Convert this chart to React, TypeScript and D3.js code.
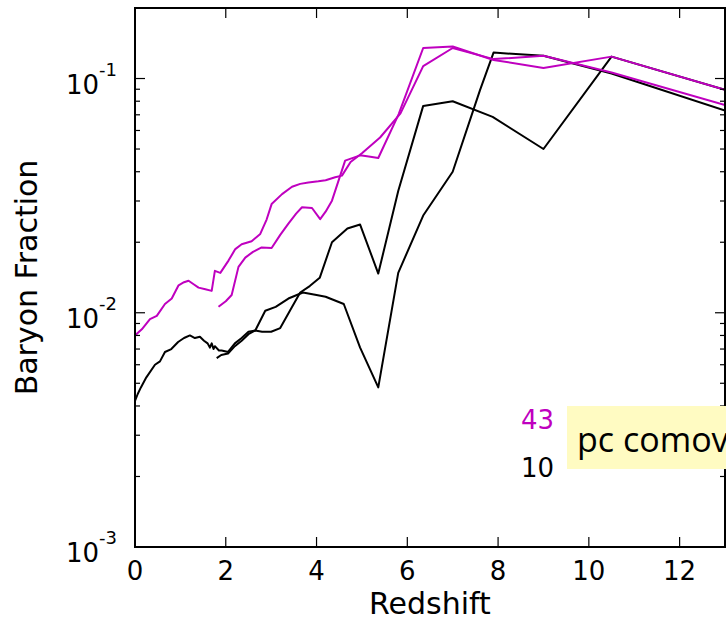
import React from "react";
import * as d3 from "d3";

// Redshift / baryon-fraction tracks for two halos at two resolutions
const res43FullZ = [0, 0.15, 0.33, 0.48, 0.66, 0.81, 0.96, 1.08, 1.18, 1.3, 1.4, 1.55, 1.69, 1.76, 1.88, 2.06, 2.21, 2.35, 2.57, 2.76, 2.9, 3.01, 3.24, 3.46, 3.64, 3.82, 4.04, 4.2, 4.41, 4.56, 4.75, 5.0, 5.4, 5.85, 6.35, 7.0, 7.9, 9.0, 10.5, 13];
const res43FullF = [0.008, 0.0085, 0.0094, 0.0097, 0.0109, 0.0115, 0.0131, 0.0135, 0.0137, 0.0132, 0.0128, 0.0126, 0.0124, 0.0151, 0.0148, 0.0167, 0.0187, 0.0196, 0.0202, 0.0217, 0.025, 0.0291, 0.0321, 0.0345, 0.0355, 0.036, 0.0364, 0.0368, 0.0379, 0.0385, 0.044, 0.048, 0.056, 0.071, 0.113, 0.135, 0.121, 0.125, 0.106, 0.077];

const res43PartZ = [1.84, 2.0, 2.13, 2.28, 2.43, 2.6, 2.79, 3.01, 3.2, 3.38, 3.55, 3.68, 3.9, 4.08, 4.2, 4.34, 4.63, 4.96, 5.15, 5.36, 5.81, 6.35, 7.0, 7.9, 9.0, 10.5, 13];
const res43PartF = [0.0106, 0.0112, 0.0119, 0.0157, 0.0172, 0.0182, 0.019, 0.0189, 0.0215, 0.024, 0.0265, 0.0282, 0.028, 0.0251, 0.027, 0.0301, 0.0446, 0.047, 0.0465, 0.0458, 0.0705, 0.135, 0.137, 0.12, 0.111, 0.124, 0.0895];

const res10FullZ = [0, 0.06, 0.13, 0.25, 0.44, 0.55, 0.66, 0.8, 0.95, 1.08, 1.21, 1.32, 1.43, 1.52, 1.6, 1.65, 1.69, 1.73, 1.76, 1.85, 1.91, 2.05, 2.2, 2.35, 2.5, 2.65, 2.87, 3.1, 3.38, 3.7, 4.0, 4.2, 4.6, 4.96, 5.36, 5.8, 6.35, 7.0, 7.6, 7.9, 9.0, 10.5, 13];
const res10FullF = [0.0042, 0.0045, 0.0048, 0.0053, 0.006, 0.0062, 0.0068, 0.007, 0.0075, 0.0078, 0.008, 0.0078, 0.0079, 0.0076, 0.0074, 0.0071, 0.0074, 0.007, 0.0072, 0.0069, 0.0069, 0.0068, 0.0074, 0.0078, 0.0083, 0.0084, 0.0102, 0.0106, 0.0115, 0.0122, 0.0119, 0.0117, 0.0109, 0.0071, 0.0048, 0.0148, 0.026, 0.04, 0.089, 0.129, 0.125, 0.105, 0.073];

const res10PartZ = [1.8, 1.9, 2.05, 2.2, 2.35, 2.5, 2.65, 2.8, 3.0, 3.2, 3.45, 3.64, 3.85, 4.07, 4.34, 4.68, 4.96, 5.36, 5.8, 6.35, 7.0, 7.88, 9.0, 10.5, 13];
const res10PartF = [0.0064, 0.0066, 0.0067, 0.0072, 0.0076, 0.0081, 0.0084, 0.0083, 0.0083, 0.0086, 0.0105, 0.0122, 0.013, 0.0141, 0.02, 0.0229, 0.0238, 0.0147, 0.0331, 0.0764, 0.08, 0.0686, 0.05, 0.124, 0.0895];

const xTicks = [0, 2, 4, 6, 8, 10, 12];
const yTicks = [1e-3, 1e-2, 1e-1];
const yTickExponents = ["-3", "-2", "-1"];
const legendLabels = ["43", "10"];
const legendNote = "pc comov";

const MAGENTA = "#bf00bf";
const BLACK = "#000000";
const FONT = "DejaVu Sans, Bitstream Vera Sans, sans-serif";

const W = 726;
const H = 621;
const left = 135;
const top = 8;
const bottom = 547;
const right = 725;

export default function App() {
  const x = d3.scaleLinear().domain([0, 13]).range([left, right]);
  const y = d3.scaleLog().domain([1e-3, 0.2]).range([bottom, top]);

  const line = d3
    .line<[number, number]>()
    .x((d) => x(d[0]))
    .y((d) => y(d[1]));

  const zip = (zs: number[], fs: number[]) => zs.map((z, i) => [z, fs[i]] as [number, number]);

  const series = [
    { pts: zip(res10FullZ, res10FullF), color: BLACK },
    { pts: zip(res10PartZ, res10PartF), color: BLACK },
    { pts: zip(res43FullZ, res43FullF), color: MAGENTA },
    { pts: zip(res43PartZ, res43PartF), color: MAGENTA },
  ];

  const minorY: number[] = [];
  for (const base of [1e-3, 1e-2, 1e-1]) {
    for (let m = 2; m <= 9; m++) {
      const v = m * base;
      if (v < 0.2) minorY.push(v);
    }
  }

  const majorLen = 10;
  const minorLen = 5;

  return (
    <svg
      width={W}
      height={H}
      viewBox={`0 0 ${W} ${H}`}
      style={{ position: "absolute", left: 0, top: 0, background: "#fff" }}
      fontFamily={FONT}
    >
      <defs>
        <clipPath id="plot-area">
          <rect x={left} y={top} width={right - left} height={bottom - top} />
        </clipPath>
      </defs>

      <g clipPath="url(#plot-area)">
        {series.map((s, i) => (
          <path
            key={i}
            d={line(s.pts) || ""}
            fill="none"
            stroke={s.color}
            strokeWidth={2}
            strokeLinejoin="round"
          />
        ))}
      </g>

      {/* ticks */}
      <g stroke="#000" strokeWidth={1.2}>
        {xTicks.map((t) => (
          <g key={`xt${t}`}>
            <line x1={x(t)} x2={x(t)} y1={bottom} y2={bottom - majorLen} />
            <line x1={x(t)} x2={x(t)} y1={top} y2={top + majorLen} />
          </g>
        ))}
        {yTicks.map((t) => (
          <g key={`yt${t}`}>
            <line x1={left} x2={left + majorLen} y1={y(t)} y2={y(t)} />
            <line x1={right} x2={right - majorLen} y1={y(t)} y2={y(t)} />
          </g>
        ))}
        {minorY.map((t) => (
          <g key={`ym${t}`}>
            <line x1={left} x2={left + minorLen} y1={y(t)} y2={y(t)} />
            <line x1={right} x2={right - minorLen} y1={y(t)} y2={y(t)} />
          </g>
        ))}
      </g>

      {/* frame */}
      <rect
        x={left}
        y={top}
        width={right - left}
        height={bottom - top}
        fill="none"
        stroke="#000"
        strokeWidth={2}
      />

      {/* tick labels */}
      <g fontSize={26} fill="#000">
        {xTicks.map((t) => (
          <text key={`xl${t}`} x={x(t)} y={580} textAnchor="middle">
            {t}
          </text>
        ))}
        {yTicks.map((t, i) => (
          <text key={`yl${t}`} x={117} y={y(t) + 15} textAnchor="end">
            10
            <tspan fontSize={18} dy={-18}>
              {yTickExponents[i]}
            </tspan>
          </text>
        ))}
      </g>

      {/* axis titles */}
      <text x={(left + right) / 2} y={614} textAnchor="middle" fontSize={30}>
        Redshift
      </text>
      <text
        transform={`translate(37, ${(top + bottom) / 2}) rotate(-90)`}
        textAnchor="middle"
        fontSize={30}
      >
        Baryon Fraction
      </text>

      {/* legend */}
      <text x={521} y={429} fontSize={26} fill={MAGENTA}>
        {legendLabels[0]}
      </text>
      <text x={521} y={477} fontSize={26} fill={BLACK}>
        {legendLabels[1]}
      </text>
      <rect x={567} y={406} width={180} height={63} fill="#fffbc2" />
      <text x={577} y={452} fontSize={34} fontFamily="Open Sans, Noto Sans, sans-serif" fill="#000">
        {legendNote}
      </text>
    </svg>
  );
}
